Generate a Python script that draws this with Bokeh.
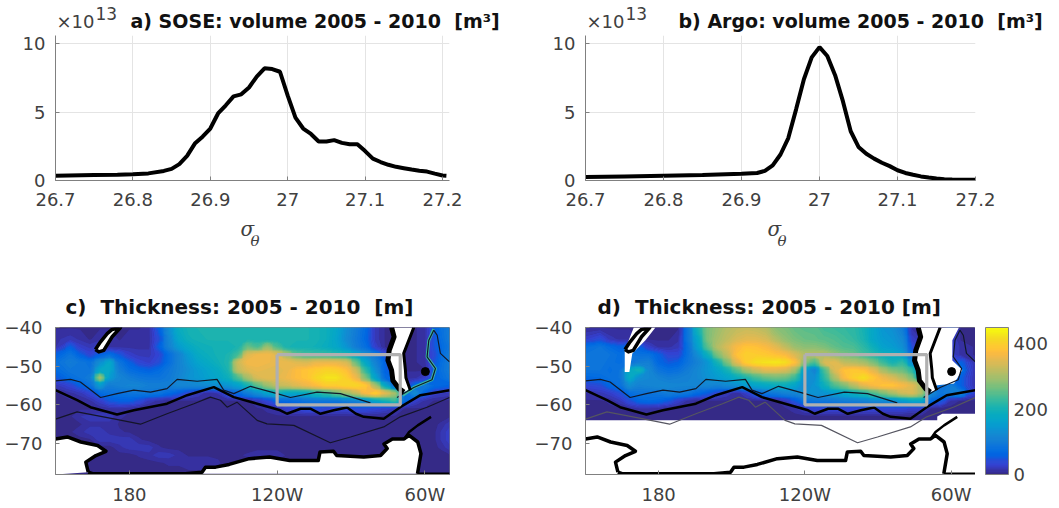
from bokeh.plotting import figure
from bokeh.models import FixedTicker, Label, LinearColorMapper, ColorBar
from bokeh.layouts import column, row
from bokeh.embed import file_html
from bokeh.resources import INLINE
import numpy as np

# ---------- panel a / b : volume curves
sose_sigma = [26.70,26.75,26.78,26.80,26.82,26.84,26.85,26.86,26.87,26.88,26.89,26.90,26.91,26.92,26.93,26.94,26.95,26.96,26.97,26.98,26.99,27.00,27.01,27.02,27.03,27.04,27.05,27.06,27.07,27.08,27.09,27.10,27.11,27.12,27.13,27.14,27.15,27.16,27.17,27.18,27.19,27.20,27.205]
sose_vol = [0.35,0.40,0.42,0.45,0.52,0.70,0.85,1.2,1.8,2.7,3.2,3.8,4.9,5.5,6.15,6.3,6.8,7.6,8.2,8.15,7.95,6.2,4.6,3.8,3.4,2.85,2.85,2.95,2.75,2.65,2.65,2.15,1.6,1.35,1.15,1.0,0.9,0.8,0.72,0.65,0.5,0.37,0.35]
argo_sigma = [26.70,26.75,26.80,26.85,26.90,26.92,26.93,26.94,26.95,26.96,26.97,26.98,26.99,27.00,27.01,27.02,27.03,27.04,27.05,27.06,27.07,27.08,27.09,27.10,27.11,27.12,27.13,27.14,27.15,27.16,27.17,27.18,27.20]
argo_vol = [0.25,0.30,0.35,0.40,0.50,0.55,0.70,1.1,1.9,3.1,5.2,7.4,9.0,9.75,9.1,7.7,5.8,3.6,2.45,1.95,1.6,1.3,1.05,0.75,0.55,0.42,0.30,0.22,0.15,0.10,0.07,0.05,0.05]
sigma_ticks = [26.7,26.8,26.9,27.0,27.1,27.2]
sigma_labels = ["26.7","26.8","26.9","27","27.1","27.2"]
vol_ticks = [0,5,10]

# ---------- panel c / d : thickness fields (m); rows north to south, columns west to east
lons = [150,156,160,164,168,172,176,180,184,188,192,196,200,204,208,212,216,220,224,228,232,236,240,244,248,252,256,260,264,268,272,276,280,284,288,292,296,300,304,310]
lats = [-40,-43,-45,-47,-49,-51,-53,-55,-57,-59,-61,-63,-65,-67,-69,-71,-73,-75,-78]

sose_thick = [
 [6,6,6,6,6,6,6,6,6,12,58,130,185,200,205,210,210,210,210,205,205,205,205,205,205,205,200,190,170,130,100,70,18,6,6,6,6,12,60,100],
 [12,18,12,6,12,12,6,12,12,12,42,115,170,195,200,205,205,205,205,210,205,205,205,205,205,205,200,190,165,125,95,65,18,6,6,6,6,12,50,100],
 [12,58,26,18,26,12,12,12,12,12,58,110,150,175,190,195,200,200,205,260,240,290,240,205,200,200,195,185,170,140,100,75,26,6,6,6,6,12,50,90],
 [58,85,58,34,58,75,50,26,18,18,34,75,110,150,180,190,200,205,235,345,360,365,345,300,250,235,230,225,215,205,170,130,90,42,6,6,6,12,42,100],
 [80,100,90,80,130,170,85,58,34,26,42,75,110,140,165,180,195,210,330,365,365,360,355,355,345,340,355,355,355,340,260,170,110,58,12,6,6,12,50,100],
 [70,90,90,85,170,170,100,75,65,58,70,90,110,130,150,165,180,205,320,345,355,350,345,355,375,385,395,405,400,380,330,220,130,58,26,6,6,6,60,100],
 [50,75,85,100,300,150,115,100,90,85,85,95,115,135,145,160,170,190,240,300,340,350,350,360,375,385,410,425,425,400,360,270,160,70,58,12,12,26,60,90],
 [18,34,58,80,150,100,110,115,115,105,105,105,115,115,120,125,130,140,160,200,250,290,320,330,345,360,375,395,395,405,410,390,300,170,70,26,70,100,70,60],
 [6,12,18,34,70,80,80,85,90,90,85,70,55,35,20,8,15,45,70,100,130,165,190,170,170,180,210,230,260,290,320,370,400,350,300,80,130,58,26,18],
 [6,6,6,12,26,50,58,58,42,18,12,6,6,6,6,6,6,6,6,6,18,34,65,70,75,85,90,90,90,100,110,130,170,200,230,70,26,12,6,6],
 [6,6,6,6,8,12,12,8,6,6,6,6,6,6,6,6,6,6,6,6,6,8,12,26,34,42,42,34,34,34,42,42,34,26,18,6,6,6,6,6],
 [6,6,14,18,18,18,8,6,6,6,6,6,6,6,6,6,6,6,6,6,6,6,6,6,6,6,6,6,6,6,6,6,6,6,6,6,6,6,6,6],
 [4,4,6,12,12,12,6,4,4,4,4,4,4,4,4,4,4,4,4,4,4,4,4,4,4,4,4,4,4,4,4,4,4,4,4,4,4,4,4,18],
 [4,6,12,18,18,12,8,6,4,4,4,4,4,4,4,4,4,4,4,4,4,4,4,4,4,4,4,4,4,4,4,4,4,4,4,4,4,4,6,26],
 [4,4,4,6,18,18,18,18,8,4,4,4,4,4,4,4,4,4,4,4,4,4,4,4,4,4,4,4,4,4,4,4,4,4,4,4,4,4,6,26],
 [4,4,4,4,4,4,12,18,18,18,8,4,4,4,4,4,4,4,4,4,4,4,4,4,4,4,4,4,4,4,4,4,4,4,4,4,4,4,4,18],
 [4,4,4,4,4,4,4,4,8,12,18,18,12,6,6,6,6,6,6,8,12,12,12,6,6,4,4,4,4,4,4,4,4,4,4,4,4,4,4,6],
 [4,4,4,4,4,4,4,4,4,4,6,8,8,12,12,12,8,4,4,4,4,4,4,4,4,4,4,4,4,4,4,4,4,4,4,4,4,4,4,4],
 [4,4,4,4,4,4,4,4,4,4,4,4,4,4,4,4,4,4,4,4,4,4,4,4,4,4,4,4,4,4,4,4,4,4,4,4,4,4,4,4],
]

argo_thick = [
 [6,6,6,6,6,6,6,6,6,6,90,200,270,290,310,320,325,320,310,280,270,255,250,250,235,230,225,220,200,170,140,130,100,12,12,12,12,50,6,6],
 [26,42,18,12,12,6,6,6,6,12,90,170,270,300,320,340,350,350,340,310,285,270,260,255,250,245,235,225,205,170,150,140,120,26,12,12,12,26,6,6],
 [75,85,70,58,65,58,26,12,12,18,80,160,250,310,340,370,385,380,370,350,320,290,280,280,270,255,245,240,220,190,160,150,130,42,12,12,12,26,12,6],
 [85,90,85,75,85,80,80,58,34,34,80,130,190,270,320,380,400,395,390,380,370,340,310,310,310,290,270,260,235,215,190,180,160,70,12,12,12,26,12,6],
 [85,90,80,75,85,100,105,65,50,58,85,110,140,200,270,350,400,420,425,430,420,380,280,240,340,350,320,310,300,270,230,200,220,120,26,12,12,34,58,12],
 [85,85,75,85,180,200,120,85,75,80,100,120,140,165,200,250,300,330,350,350,340,300,150,110,240,340,380,390,380,350,300,270,260,220,58,12,12,42,80,12],
 [65,70,80,85,180,130,120,110,100,105,110,120,135,150,165,185,210,235,255,265,260,230,130,130,220,300,370,400,420,390,360,340,310,270,70,26,26,58,58,12],
 [34,42,65,80,130,110,115,120,120,115,115,115,115,110,120,130,150,165,175,185,185,165,120,140,190,240,270,310,350,370,385,385,370,350,300,80,80,100,58,12],
 [12,18,26,42,75,85,85,90,100,95,90,70,55,35,20,8,25,60,85,95,110,115,130,140,140,150,170,190,210,240,270,300,330,340,300,120,90,100,110,26],
 [6,6,8,18,42,65,70,65,50,26,12,6,6,6,6,6,6,6,6,6,18,50,85,90,90,95,100,105,110,120,120,130,150,170,170,70,50,12,6,6],
 [4,4,6,6,8,12,12,8,6,6,6,6,4,4,4,4,4,4,4,4,6,12,26,34,34,34,34,34,34,34,34,34,34,26,26,6,4,4,4,4],
 [4,4,4,4,4,4,4,4,4,4,4,4,4,4,4,4,4,4,4,4,4,4,4,4,4,4,4,4,4,4,4,4,4,4,4,4,4,4,4,4],
 [4,4,4,4,4,4,4,4,4,4,4,4,4,4,4,4,4,4,4,4,4,4,4,4,4,4,4,4,4,4,4,4,4,4,4,4,4,4,4,4],
 [4,4,4,4,4,4,4,4,4,4,4,4,4,4,4,4,4,4,4,4,4,4,4,4,4,4,4,4,4,4,4,4,4,4,4,4,4,4,4,4],
 [4,4,4,4,4,4,4,4,4,4,4,4,4,4,4,4,4,4,4,4,4,4,4,4,4,4,4,4,4,4,4,4,4,4,4,4,4,4,4,4],
 [4,4,4,4,4,4,4,4,4,4,4,4,4,4,4,4,4,4,4,4,4,4,4,4,4,4,4,4,4,4,4,4,4,4,4,4,4,4,4,4],
 [4,4,4,4,4,4,4,4,4,4,4,4,4,4,4,4,4,4,4,4,4,4,4,4,4,4,4,4,4,4,4,4,4,4,4,4,4,4,4,4],
 [4,4,4,4,4,4,4,4,4,4,4,4,4,4,4,4,4,4,4,4,4,4,4,4,4,4,4,4,4,4,4,4,4,4,4,4,4,4,4,4],
 [4,4,4,4,4,4,4,4,4,4,4,4,4,4,4,4,4,4,4,4,4,4,4,4,4,4,4,4,4,4,4,4,4,4,4,4,4,4,4,4],
]

# contours
c_upper_lon = [150,156.1,160.1,168.3,175,181.8,188.6,195.3,199.4,207.5,215.6,218.3,222.4,229.2,240,245.4,256.2,265.7,277.9]
c_upper_lat = [-53.8,-53.4,-54.1,-58.1,-57.1,-56.2,-56.7,-55.8,-53.4,-53.9,-53.4,-56.2,-57.1,-55.2,-57.1,-58.1,-56.7,-57.1,-59.5]
c_east_lon = [288.7,295.5,302.9,304.3,300.9,301.6,303.6,305,306.3,310]
c_east_lat = [-58.1,-55.5,-53.5,-50.6,-47.6,-43.3,-40.7,-42,-46.7,-48.9]
current_lon = [291,295.5,302.9,304.3,300.9,301.6,303.6]
current_lat = [-57.5,-55.5,-53.5,-50.6,-47.6,-43.3,-40.4]
c_mid_lon = [150,158.8,164.2,175,181.8,195.3,203.5,214.3,222.4,231.9,241.3,244,249.5,253.5,257.6,263,268.4,272,275.2,283.3,290,298.2,310]
c_mid_lat = [-56.2,-58.8,-60.6,-62.5,-61.4,-59.7,-57.5,-55.4,-58,-59.7,-61.4,-62.3,-61,-61,-62.3,-61.4,-60.7,-62.3,-63.1,-63.6,-60.6,-57.5,-56.2]
c_low_lon = [150,158.8,173.7,184.5,195.3,206.2,212.9,217,219.7,223.7,231.9,235.9,246.8,261.6,269.8,283.3,290,300.9,310]
c_low_lat = [-63.7,-61.8,-63.6,-65,-62.3,-59.7,-58,-58.8,-60.6,-59.3,-64,-64.9,-65.3,-69.8,-68.3,-65.7,-63.1,-60.6,-58.1]

# coasts
ant_w_lon = [150,154.8,160.3,167.1,170.5,166.4,162.3,163.3]
ant_w_lat = [-68.8,-68.3,-69.6,-70.5,-72,-73.1,-74.8,-77.4]
ant_lon = [163.3,165,202.7,209.5,210.9,215,220.5,228.7,236.9,245.1,256.7,257.4,262.9,264.2,275.2,282,284.7,283.4,286.8,291.6,293.6,297.1,298.4,297]
ant_lat = [-77.4,-77.8,-77.8,-77.4,-76.1,-76.1,-75.4,-73.9,-73.5,-74.4,-74.4,-72.2,-72,-73.1,-73.5,-73.1,-71.3,-70.1,-68.8,-68.8,-67.9,-69.6,-72.6,-77.8]
pen_lon = [291.6,293.6,297.1,302.5]
pen_lat = [-68.8,-67,-65.3,-63.1]
east_ant_lon = [297,310]
east_ant_lat = [-77.8,-77.8]
chile_w_lon = [286.5,287.5,285.5,285,286.5,287,289.5,291.5]
chile_w_lat = [-40,-42.4,-45.9,-48.5,-51.1,-53.7,-55.8,-56.7]
chile_e_lon = [294.1,292.3,292.1,291.4,295.5]
chile_e_lat = [-56.2,-53,-51,-46.7,-40]
nz_lon = [166.2,168.3,171,173,176.4,173,169.6,167.6,166.2]
nz_lat = [-45.7,-43.7,-41.6,-40.5,-40,-42.4,-45.9,-46.3,-45.7]
falk_lon = [300.2]
falk_lat = [-51.4]
# regions without Argo data
nodata_s_lon = [150,150,294.3,294.3,296.4,310,310]
nodata_s_lat = [-78,-64,-64,-63,-62.3,-62.3,-78]
nodata_e_lon = [286.5,303.2,300.5,300.5,304.6,301.2,294.3,290.9,286.5]
nodata_e_lat = [-40,-40,-43.3,-48.5,-51,-54.5,-54.9,-56.2,-51]
nodata_nz_lon = [166.1,166.1,168,169.2,174.6,178.7,169.8]
nodata_nz_lat = [-45.9,-51.5,-51.5,-46.7,-43.3,-40,-40]
box_lon = [240,290,290,240,240]
box_lat = [-47,-47,-60,-60,-47]
lon_ticks = [180,240,300]
lon_labels = ["180","120W","60W"]
lat_ticks = [-40,-50,-60,-70]
cbar_ticks = [0,200,400]

parula = ["#352a87","#3630a0","#3638b4","#353dc6","#3243d2","#2c4ad4","#204fd8","#0f5bdd","#0363e1","#0268e1","#046ee0","#0971dd","#0d75db","#1079d8","#127dd5","#1481d4","#1485d3","#1389d2","#108ed2","#0c93d2","#0998d1","#079ccf","#06a0cd","#06a4ca","#06a7c6","#07a9c2","#0aacbe","#0faeb9","#15b1b4","#1db3af","#25b5a9","#2eb7a4","#38b99e","#42bb98","#4dbc92","#59bd8c","#65be86","#71bf80","#7cbf7b","#87bf77","#92bf73","#9cbf6f","#a5be6b","#aebe67","#b7bd64","#bfbc60","#c8bc5c","#d1bb59","#d9ba56","#e1ba51","#e9b94e","#f1b94a","#f8ba43","#fdbd3d","#ffc337","#fec832","#fccd2e","#f9d229","#f6d725","#f5dd21","#f5e41d","#f5eb18","#f6f313","#f9fa0e"]
mapper = LinearColorMapper(palette=parula, low=0, high=450)
levels = list(np.linspace(0, 450, len(parula)+1))

GREY = "#808080"
TXT = "#404040"
NB = "\u00a0"

def strip(height, top):
    """A text strip: its frame fills the canvas and its data units are page pixels."""
    s = figure(width=1059, height=height, x_range=(0, 1059), y_range=(top+height, top),
               x_axis_type=None, y_axis_type=None, output_backend="svg", toolbar_location=None,
               min_border=0, min_border_left=0, min_border_right=0, min_border_top=0, min_border_bottom=0)
    s.grid.visible = False
    s.outline_line_color = None
    return s

def put(s, text, x, y, size="18px", style="normal", color=TXT, font="DejaVu Sans"):
    s.add_layout(Label(x=x, y=y, text=text, text_font=font, text_font_size=size, text_font_style=style,
                       text_color=color, text_align="left", text_baseline="middle"))

def style(p):
    for ax in (p.xaxis[0], p.yaxis[0]):
        ax.axis_line_color = GREY
        ax.major_tick_line_color = GREY
        ax.major_tick_in = 4
        ax.major_tick_out = 0
        ax.minor_tick_line_color = None
        ax.major_label_text_font = "DejaVu Sans"
        ax.major_label_text_font_size = "18px"
        ax.major_label_text_color = TXT

def curve(x, y, width, right, xmax):
    p = figure(width=width, height=184, x_range=(26.7, xmax), y_range=(0, 10.6),
               output_backend="svg", toolbar_location=None,
               min_border_left=55, min_border_right=right, min_border_top=3, min_border_bottom=36)
    style(p)
    p.outline_line_color = None
    p.grid.grid_line_color = "#e4e4e4"
    p.xaxis.ticker = FixedTicker(ticks=sigma_ticks)
    p.xaxis.major_label_overrides = dict(zip(sigma_ticks, sigma_labels))
    p.xaxis.major_label_standoff = 12
    p.yaxis.ticker = FixedTicker(ticks=vol_ticks)
    p.yaxis.major_label_standoff = 10
    p.line(x, y, line_color="black", line_width=4)
    return p

def outline(p, xs, ys, w=3.5):
    p.line(xs, ys, line_color="black", line_width=w, line_join="round")

def fmap(field, width, right, argo):
    p = figure(width=width, height=190, x_range=(150, 310), y_range=(-78, -40),
               output_backend="svg", toolbar_location=None,
               min_border_left=55, min_border_right=right, min_border_top=9, min_border_bottom=34)
    style(p)
    p.grid.visible = False
    p.outline_line_color = GREY
    p.xaxis.ticker = FixedTicker(ticks=lon_ticks)
    p.xaxis.major_label_overrides = dict(zip(lon_ticks, lon_labels))
    p.xaxis.major_label_standoff = 9
    p.yaxis.ticker = FixedTicker(ticks=lat_ticks)
    p.yaxis.major_label_standoff = 13
    z = np.array(field, dtype=float)
    p.image(image=[z[::-1]], x=150, y=-78, dw=160, dh=38, color_mapper=mapper)
    p.contour(lons, lats, z, levels, fill_color=parula, line_color=None)
    # land
    p.patch(ant_w_lon+[150], ant_w_lat+[-78], fill_color="white", line_color=None)
    p.patch(ant_lon+[163.3], ant_lat+[-77.8], fill_color="white", line_color=None)
    p.patch(chile_w_lon+chile_e_lon, chile_w_lat+chile_e_lat, fill_color="white", line_color=None)
    p.patch(nz_lon, nz_lat, fill_color="white", line_color=None)
    if argo:
        p.patch(nodata_s_lon, nodata_s_lat, fill_color="white", line_color=None)
        p.patch(nodata_e_lon, nodata_e_lat, fill_color="white", line_color=None)
        p.patch(nodata_nz_lon, nodata_nz_lat, fill_color="white", line_color=None)
    else:
        p.line(current_lon, current_lat, line_color="#38b99e", line_width=3)
    # contours
    p.line(c_upper_lon, c_upper_lat, line_color="#10182a", line_width=1.2)
    p.line(c_east_lon, c_east_lat, line_color="#10182a", line_width=1.2)
    p.line(c_low_lon, c_low_lat, line_color="#555560" if argo else "#141428", line_width=1.2)
    p.line(c_mid_lon, c_mid_lat, line_color="black", line_width=2.5)
    # coast
    outline(p, ant_w_lon, ant_w_lat)
    outline(p, ant_lon, ant_lat)
    outline(p, pen_lon, pen_lat, 2.5)
    outline(p, east_ant_lon, east_ant_lat, 2.5)
    outline(p, chile_w_lon, chile_w_lat, 5)
    outline(p, chile_e_lon, chile_e_lat, 3)
    outline(p, nz_lon, nz_lat, 3.5)
    p.scatter(falk_lon, falk_lat, size=8, color="black")
    # box
    p.line(box_lon, box_lat, line_color="#b0b0b0", line_width=3.2)
    return p

head = strip(32, 0)
put(head, f"a) SOSE: volume 2005 - 2010 {NB}[m³]", 130, 20, "19px", "bold", "#111111")
put(head, f"b) Argo: volume 2005 - 2010 {NB}[m³]", 678, 20, "19px", "bold", "#111111")
for x0 in (56, 586):
    put(head, "×10", x0, 21)
    put(head, "13", x0+39, 13, "17px")

a = curve(sose_sigma, sose_vol, 530, 81, 27.209)
b = curve(argo_sigma, argo_vol, 529, 84, 27.2)

mid = strip(102, 216)
for x0 in (240, 767):
    put(mid, "σ", x0, 228, "20px", "italic", TXT, "DejaVu Serif")
    put(mid, "θ", x0+10, 240, "15px", "italic", TXT, "DejaVu Serif")
put(mid, f"c) {NB}Thickness: 2005 - 2010 {NB}[m]", 65, 306, "20px", "bold", "#111111")
put(mid, f"d) {NB}Thickness: 2005 - 2010 [m]", 597, 306, "20px", "bold", "#111111")

c = fmap(sose_thick, 530, 81, False)
d = fmap(argo_thick, 445, 0, True)

bar = figure(width=84, height=190, x_range=(0, 1), y_range=(0, 1), x_axis_type=None, y_axis_type=None,
             output_backend="svg", toolbar_location=None,
             min_border_left=0, min_border_right=0, min_border_top=9, min_border_bottom=34)
bar.grid.visible = False
bar.outline_line_color = None
cb = ColorBar(color_mapper=mapper, ticker=FixedTicker(ticks=cbar_ticks), width=23, height=147,
              location=(10, 0), padding=0, margin=0, major_tick_in=0, major_tick_out=0, bar_line_color=GREY,
              major_label_text_font="DejaVu Sans", major_label_text_font_size="18px",
              major_label_text_color=TXT, background_fill_alpha=0, border_line_color=None)
bar.add_layout(cb, "center")

page = column(head, row(a, b), mid, row(c, d, bar))
open("out.html", "w").write(file_html(page, INLINE))
